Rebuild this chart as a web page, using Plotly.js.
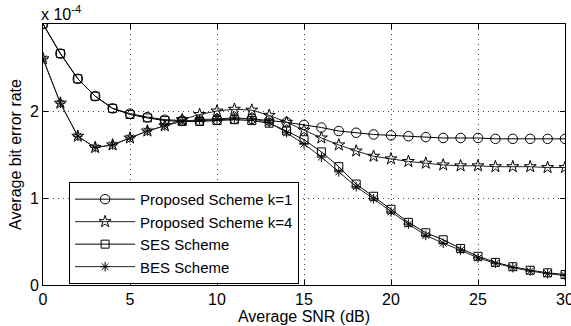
<!DOCTYPE html>
<html>
<head>
<meta charset="utf-8">
<script src="https://cdn.plot.ly/plotly-3.0.1.min.js"></script>
<style>html,body{margin:0;padding:0;background:#fff;}#chart{width:571px;height:326px;}</style>
</head>
<body>
<div id="chart"></div>
<script>
// SNR (dB)
const snr = [0,1,2,3,4,5,6,7,8,9,10,11,12,13,14,15,16,17,18,19,20,21,22,23,24,25,26,27,28,29,30];
// Average bit error rate, in units of 1e-4
const proposedK1 = [3.00,2.66,2.37,2.17,2.03,1.97,1.93,1.90,1.89,1.89,1.90,1.91,1.91,1.89,1.87,1.84,1.81,1.77,1.75,1.73,1.72,1.71,1.70,1.69,1.69,1.69,1.68,1.68,1.68,1.68,1.68];
const proposedK4 = [2.60,2.09,1.71,1.58,1.61,1.69,1.77,1.83,1.90,1.96,2.00,2.02,2.01,1.95,1.87,1.78,1.69,1.61,1.54,1.48,1.45,1.42,1.40,1.38,1.37,1.37,1.36,1.36,1.36,1.35,1.35];
const sesScheme  = [3.00,2.66,2.37,2.17,2.03,1.96,1.92,1.89,1.88,1.88,1.89,1.90,1.89,1.86,1.77,1.67,1.53,1.36,1.16,1.02,0.87,0.72,0.60,0.52,0.42,0.33,0.26,0.21,0.17,0.14,0.12];
const besScheme  = [2.60,2.09,1.71,1.58,1.61,1.69,1.77,1.83,1.88,1.90,1.91,1.92,1.91,1.87,1.75,1.62,1.47,1.30,1.13,0.99,0.84,0.70,0.57,0.48,0.40,0.31,0.25,0.20,0.16,0.13,0.11];
const seriesNames = ["Proposed Scheme k=1","Proposed Scheme k=4","SES Scheme","BES Scheme"];
const xTicks = [0,5,10,15,20,25,30];
const yTicks = [0,1,2,3];
const yTickText = ["0","1","2",""];

const fam = "Liberation Sans, Arial, Helvetica, sans-serif";
const font = {family: fam, size: 16, color: "#000"};
const legFont = {family: fam, size: 15, color: "#000"};
function tr(y, name, symbol, size, lc) {
  return {x: snr, y: y, name: name, type: "scatter", mode: "lines+markers",
    line: {color: lc, width: 1},
    marker: {symbol: symbol, size: size, color: "#000", line: {color: "#000", width: 1}}};
}
const data = [
  tr(proposedK1, seriesNames[0], "circle-open", 9.5, "#000"),
  tr(proposedK4, seriesNames[1], "star-open", 9, "#222"),
  tr(sesScheme, seriesNames[2], "square-open", 8, "#000"),
  tr(besScheme, seriesNames[3], "asterisk-open", 8, "#222")
];
const axisCommon = {showline: true, linecolor: "#000", linewidth: 1, mirror: "ticks",
  ticks: "inside", ticklen: 5, tickcolor: "#000", zeroline: false,
  showgrid: true, gridcolor: "#444", griddash: "1px,4px", gridwidth: 1, tickfont: font,
  ticklabeloverflow: "allow"};
const layout = {
  width: 571, height: 326,
  margin: {l: 43, r: 6, t: 24, b: 41},
  paper_bgcolor: "#fff", plot_bgcolor: "#fff",
  font: font,
  showlegend: true,
  legend: {x: 0.05, y: 0.395, xanchor: "left", yanchor: "top", itemwidth: 60,
    bgcolor: "#fff", bordercolor: "#000", borderwidth: 1, font: legFont, tracegroupgap: 0},
  xaxis: Object.assign({}, axisCommon, {range: [0, 30], tickvals: xTicks, tickangle: 0,
    title: {text: "Average SNR (dB)", font: font, standoff: 0}}),
  yaxis: Object.assign({}, axisCommon, {range: [0, 3], tickvals: yTicks, ticktext: yTickText,
    title: {text: "Average bit error rate", font: font, standoff: 4}}),
  annotations: [{xref: "paper", yref: "paper", x: 0, y: 1, xanchor: "left", yanchor: "bottom",
    xshift: -4, yshift: -1, text: "x 10<sup>-4</sup>", showarrow: false, font: font}]
};
Plotly.newPlot("chart", data, layout, {staticPlot: true, displayModeBar: false});
</script>
</body>
</html>
